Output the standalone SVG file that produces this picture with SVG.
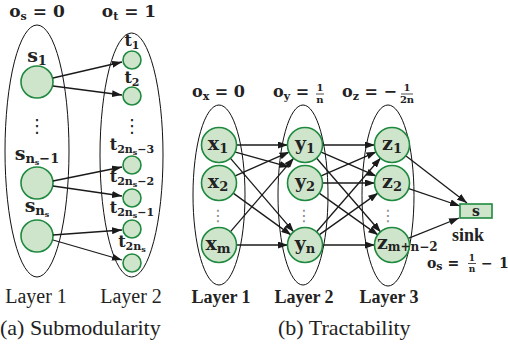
<svg xmlns="http://www.w3.org/2000/svg" width="508" height="349" viewBox="0 0 508 349">
<style>
.ell{fill:none;stroke:#111;stroke-width:1}
.nd{fill:#cfe5cb;stroke:#1f8a3f;stroke-width:1.6}
.m{font-family:"DejaVu Serif",serif;font-weight:bold;fill:#222}
.sub{font-size:11px}
.sub2{font-size:13px}
.ssub{font-size:8px}
.ed{stroke:#1a1a1a;stroke-width:1.3;fill:none;marker-end:url(#ah)}
.lay{font-family:"Liberation Serif",serif;font-size:20px;fill:#222}
.layb{font-family:"Liberation Serif",serif;font-size:18px;font-weight:bold;fill:#222}
.cap{font-family:"Liberation Serif",serif;font-size:22px;fill:#222}
.dots{font-family:"DejaVu Sans",sans-serif;fill:#222}
.gd{font-family:"DejaVu Sans",sans-serif;fill:#888;font-size:16px}
</style>
<defs>
<marker id="ah" markerWidth="10" markerHeight="7" refX="10" refY="3.5" orient="auto" markerUnits="userSpaceOnUse"><path d="M0,0 L10,3.5 L0,7 z" fill="#1a1a1a"/></marker>
</defs>

<!-- Part (a) -->
<g id="a-headers">
<text class="m" x="37" y="17" font-size="17" text-anchor="middle">o<tspan class="sub" dy="3">s</tspan><tspan dy="-3"> = 0</tspan></text>
<text class="m" x="129" y="17" font-size="17" text-anchor="middle">o<tspan class="sub" dy="3">t</tspan><tspan dy="-3"> = 1</tspan></text>
</g>
<g id="a-layer1">
<ellipse class="ell" cx="37" cy="151" rx="32" ry="126"/>
<text class="lay" x="36" y="303" text-anchor="middle">Layer 1</text>
</g>
<g id="a-layer2">
<ellipse class="ell" cx="131.5" cy="155" rx="31.5" ry="122"/>
<text class="lay" x="131" y="303" text-anchor="middle">Layer 2</text>
</g>
<g id="s1">
<circle class="nd" cx="37" cy="82" r="16"/>
<text class="m" x="37" y="62" font-size="19" text-anchor="middle">s<tspan class="sub2" dy="3">1</tspan></text>
</g>
<text class="dots" x="37" y="132" font-size="18" text-anchor="middle">⋮</text>
<g id="s_ns-1">
<circle class="nd" cx="37" cy="183" r="16"/>
<text class="m" x="37" y="160" font-size="19" text-anchor="middle">s<tspan class="sub2" dy="3">n</tspan><tspan class="ssub" dy="2">s</tspan><tspan class="sub2" dy="-2">−1</tspan></text>
</g>
<g id="s_ns">
<circle class="nd" cx="37" cy="236" r="16"/>
<text class="m" x="37" y="212" font-size="19" text-anchor="middle">s<tspan class="sub2" dy="3">n</tspan><tspan class="ssub" dy="2">s</tspan></text>
</g>
<g id="t1">
<circle class="nd" cx="132" cy="60" r="9"/>
<text class="m" x="132" y="46" font-size="16" text-anchor="middle">t<tspan class="sub" dy="3">1</tspan></text>
</g>
<g id="t2">
<circle class="nd" cx="132" cy="96" r="9"/>
<text class="m" x="132" y="83" font-size="16" text-anchor="middle">t<tspan class="sub" dy="3">2</tspan></text>
</g>
<text class="dots" x="132" y="132" font-size="18" text-anchor="middle">⋮</text>
<g id="t_2ns-3">
<circle class="nd" cx="132" cy="165" r="9"/>
<text class="m" x="132" y="150" font-size="16" text-anchor="middle">t<tspan class="sub" dy="3">2n</tspan><tspan class="ssub" dy="2">s</tspan><tspan class="sub" dy="-2">−3</tspan></text>
</g>
<g id="t_2ns-2">
<circle class="nd" cx="132" cy="198" r="9"/>
<text class="m" x="132" y="182" font-size="16" text-anchor="middle">t<tspan class="sub" dy="3">2n</tspan><tspan class="ssub" dy="2">s</tspan><tspan class="sub" dy="-2">−2</tspan></text>
</g>
<g id="t_2ns-1">
<circle class="nd" cx="132" cy="229" r="9"/>
<text class="m" x="132" y="213" font-size="16" text-anchor="middle">t<tspan class="sub" dy="3">2n</tspan><tspan class="ssub" dy="2">s</tspan><tspan class="sub" dy="-2">−1</tspan></text>
</g>
<g id="t_2ns">
<circle class="nd" cx="132" cy="263" r="9"/>
<text class="m" x="132" y="247" font-size="16" text-anchor="middle">t<tspan class="sub" dy="3">2n</tspan><tspan class="ssub" dy="2">s</tspan></text>
</g>
<g id="a-edges">
<line class="ed" x1="53" y1="78" x2="122" y2="62"/>
<line class="ed" x1="53" y1="86" x2="122" y2="95"/>
<line class="ed" x1="53" y1="181" x2="122" y2="167"/>
<line class="ed" x1="53" y1="186" x2="122" y2="196"/>
<line class="ed" x1="53" y1="235" x2="122" y2="230"/>
<line class="ed" x1="53" y1="240" x2="122" y2="260"/>
</g>
<text class="cap" x="0" y="335">(a) Submodularity</text>

<!-- Part (b) -->
<g id="b-headers">
<text class="m" x="192" y="97" font-size="16">o<tspan class="sub" dy="3">x</tspan><tspan dy="-3"> = 0</tspan></text>
<text class="m" x="273" y="97" font-size="16">o<tspan class="sub" dy="3">y</tspan><tspan dy="-3"> =</tspan></text>
<text class="m" x="320" y="91" font-size="10" text-anchor="middle">1</text>
<line x1="316" y1="94" x2="324" y2="94" stroke="#222" stroke-width="0.8"/>
<text class="m" x="320" y="103" font-size="10" text-anchor="middle">n</text>
<text class="m" x="342" y="97" font-size="16">o<tspan class="sub" dy="3">z</tspan><tspan dy="-3"> = −</tspan></text>
<text class="m" x="407" y="91" font-size="10" text-anchor="middle">1</text>
<line x1="401" y1="94" x2="413" y2="94" stroke="#222" stroke-width="0.8"/>
<text class="m" x="407" y="103" font-size="10" text-anchor="middle">2n</text>
</g>
<g id="b-layer1">
<ellipse class="ell" cx="219" cy="195" rx="26" ry="90"/>
<text class="layb" x="221" y="303" text-anchor="middle">Layer 1</text>
</g>
<g id="b-layer2">
<ellipse class="ell" cx="303" cy="195" rx="25" ry="90"/>
<text class="layb" x="304" y="303" text-anchor="middle">Layer 2</text>
</g>
<g id="b-layer3">
<ellipse class="ell" cx="388" cy="195.5" rx="26" ry="90.5"/>
<text class="layb" x="389" y="303" text-anchor="middle">Layer 3</text>
</g>

<g id="b-edges">
<line class="ed" x1="236" y1="145" x2="288" y2="145"/>
<line class="ed" x1="234.6" y1="151.9" x2="289.4" y2="167.1"/>
<line class="ed" x1="230.1" y1="157.9" x2="293.9" y2="232.1"/>
<line class="ed" x1="234.6" y1="176.1" x2="289.4" y2="151.9"/>
<line class="ed" x1="232.8" y1="192.9" x2="291.2" y2="235.1"/>
<line class="ed" x1="230.1" y1="232.1" x2="293.9" y2="157.9"/>
<line class="ed" x1="236" y1="245" x2="288" y2="245"/>

<line class="ed" x1="322" y1="145" x2="375" y2="145"/>
<line class="ed" x1="320.6" y1="151.8" x2="376.4" y2="176.2"/>
<line class="ed" x1="316.2" y1="157.8" x2="380.8" y2="232.2"/>
<line class="ed" x1="320.6" y1="176.2" x2="376.4" y2="151.8"/>
<line class="ed" x1="322" y1="183" x2="375" y2="183"/>
<line class="ed" x1="318.8" y1="192.9" x2="378.2" y2="235.1"/>
<line class="ed" x1="316.2" y1="232.2" x2="380.8" y2="157.8"/>
<line class="ed" x1="318.8" y1="235.1" x2="378.2" y2="192.9"/>
<line class="ed" x1="322" y1="245" x2="375" y2="245"/>

<line class="ed" x1="405.4" y1="155.5" x2="467" y2="203"/>
<line class="ed" x1="408.1" y1="188.4" x2="460" y2="206"/>
<line class="ed" x1="407.7" y1="238.6" x2="459" y2="218"/>
</g>

<g id="x1"><circle class="nd" cx="219" cy="145" r="17.5"/><text class="m" x="218" y="150" font-size="19" text-anchor="middle">x<tspan class="sub2" dy="3">1</tspan></text></g>
<g id="x2"><circle class="nd" cx="219" cy="183" r="17.5"/><text class="m" x="218" y="188" font-size="19" text-anchor="middle">x<tspan class="sub2" dy="3">2</tspan></text></g>
<text class="gd" x="218" y="221" text-anchor="middle">⋮</text>
<g id="xm"><circle class="nd" cx="219" cy="245" r="17.5"/><text class="m" x="218" y="250" font-size="19" text-anchor="middle">x<tspan class="sub2" dy="3">m</tspan></text></g>

<g id="y1"><circle class="nd" cx="305" cy="145" r="17.5"/><text class="m" x="305" y="150" font-size="19" text-anchor="middle">y<tspan class="sub2" dy="3">1</tspan></text></g>
<g id="y2"><circle class="nd" cx="305" cy="183" r="17.5"/><text class="m" x="305" y="188" font-size="19" text-anchor="middle">y<tspan class="sub2" dy="3">2</tspan></text></g>
<text class="gd" x="304" y="221" text-anchor="middle">⋮</text>
<g id="yn"><circle class="nd" cx="305" cy="245" r="17.5"/><text class="m" x="305" y="250" font-size="19" text-anchor="middle">y<tspan class="sub2" dy="3">n</tspan></text></g>

<g id="z1"><circle class="nd" cx="392" cy="145" r="17.5"/><text class="m" x="392" y="150" font-size="19" text-anchor="middle">z<tspan class="sub2" dy="3">1</tspan></text></g>
<g id="z2"><circle class="nd" cx="392" cy="183" r="17.5"/><text class="m" x="392" y="188" font-size="19" text-anchor="middle">z<tspan class="sub2" dy="3">2</tspan></text></g>
<text class="gd" x="388" y="221" text-anchor="middle">⋮</text>
<g id="zmn"><circle class="nd" cx="392" cy="245" r="17.5"/><text class="m" x="377" y="249" font-size="19">z<tspan font-size="12" dy="2">m+n−2</tspan></text></g>

<g id="sink">
<rect x="460" y="204" width="32" height="14" fill="#cfe5cb" stroke="#1f8a3f" stroke-width="1.6"/>
<text class="m" x="476" y="215.5" font-size="14" text-anchor="middle">s</text>
<text class="layb" x="468" y="241" font-size="17" text-anchor="middle">sink</text>
<text class="m" x="427" y="268" font-size="14">o<tspan class="sub" font-size="9" dy="2">s</tspan><tspan dy="-2"> =</tspan></text>
<text class="m" x="472" y="261" font-size="9" text-anchor="middle">1</text>
<line x1="468" y1="263.5" x2="476" y2="263.5" stroke="#222" stroke-width="0.8"/>
<text class="m" x="472" y="272" font-size="9" text-anchor="middle">n</text>
<text class="m" x="481" y="268" font-size="14">−</text>
<text class="m" x="499" y="268" font-size="14">1</text>
</g>
<text class="cap" x="278" y="335">(b) Tractability</text>
</svg>
